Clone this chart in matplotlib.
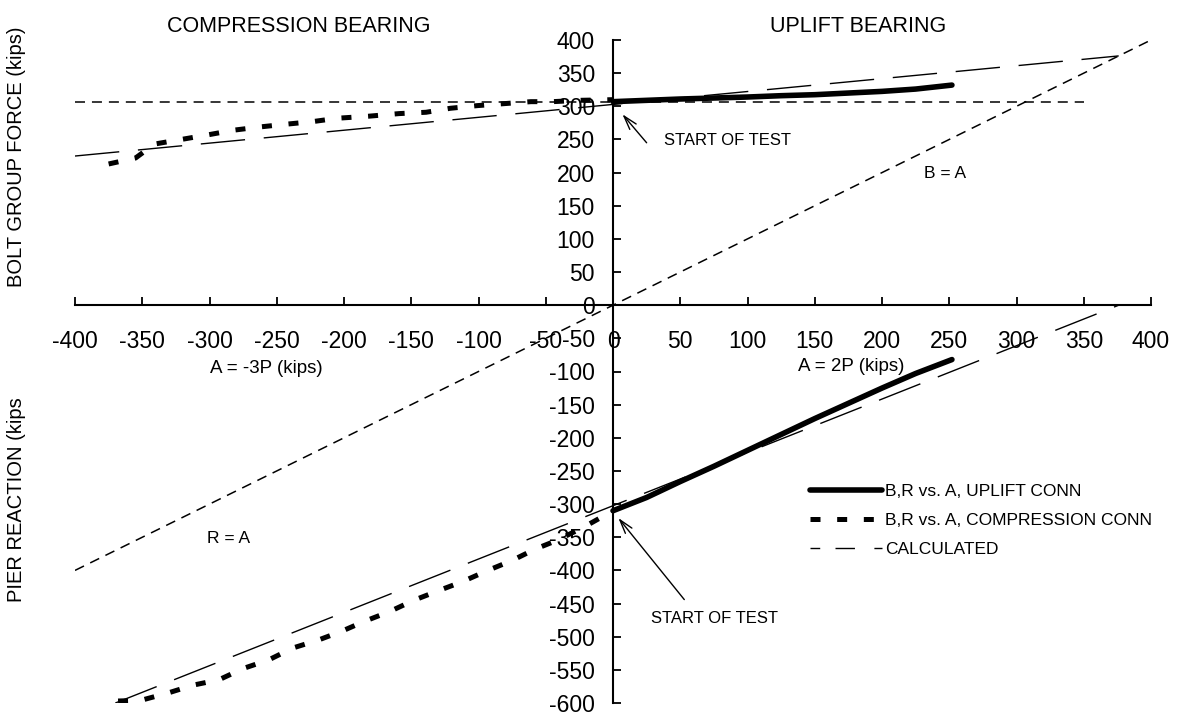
import numpy as np
import matplotlib
matplotlib.use("Agg")
import matplotlib.pyplot as plt
from matplotlib.lines import Line2D

plt.rcParams['font.family'] = ['Liberation Sans', 'DejaVu Sans']
plt.rcParams['lines.scale_dashes'] = False

# uplift connection test (solid)
upl_A = [0, 25, 50, 75, 100, 125, 150, 175, 200, 225, 252]
upl_B = [307, 309, 311, 312.5, 314, 316, 317.5, 320, 322.5, 326, 332]
upl_R = [-310, -290, -266, -243, -219, -195, -171, -148, -125, -103, -82]

# compression connection test (thick dashes)
comp_A_top = [-375, -355, -341, -321, -301, -282, -262, -243, -223, -205,
              -182, -159, -139, -121, -101, -81, -61, -45, -25, 0]
comp_B = [213, 222, 243, 250, 257, 264, 269, 273, 277, 282,
          285, 289, 291, 297, 301, 304, 307, 307, 309, 310]
comp_A_bot = [-368, -351, -331, -312, -293, -275, -256, -238, -219, -202, -185,
              -166, -148, -129, -112, -93, -75, -58, -42, -22, 0]
comp_R = [-597, -596, -585, -573, -565, -548, -535, -517, -505, -492, -477,
          -462, -445, -430, -417, -400, -385, -368, -355, -335, -310]

# calculated lines
calc_A_top = [-400, 376]
calc_B = [225, 376]
calc_A_bot = [-370, 376]
calc_R = [-600, 0]

# reference lines B = A / R = A and initial bolt force
diag_A = [-400, 400]
diag_BR = [-400, 400]
init_A = [-400, 350]
init_B = [307, 307]

xticks = np.arange(-400, 401, 50)
yticks = np.arange(-600, 401, 50)

W, H = 1182, 717
fig = plt.figure(figsize=(W / 100, H / 100), dpi=100)
ax = fig.add_axes([75 / W, 14 / H, 1076 / W, 663 / H])

short = (0, (7.2, 5.0))
calc = (0, (32, 13.5))
thick = (0, (7.2, 12.0))

ax.plot(diag_A, diag_BR, color='black', lw=1.1, linestyle=short)
ax.plot(init_A, init_B, color='black', lw=1.1, linestyle=short)

ax.plot(calc_A_top, calc_B, color='black', lw=1.0, linestyle=calc)
ax.plot(calc_A_bot, calc_R, color='black', lw=1.0, linestyle=calc)

l_comp, = ax.plot(comp_A_top, comp_B, color='black', lw=3.6, linestyle=thick,
                  dash_capstyle='butt', label='B,R vs. A, COMPRESSION CONN')
ax.plot(comp_A_bot, comp_R, color='black', lw=3.6, linestyle=thick,
        dash_capstyle='butt')

l_upl, = ax.plot(upl_A, upl_B, color='black', lw=4.0, solid_capstyle='round',
                 label='B,R vs. A, UPLIFT CONN')
ax.plot(upl_A, upl_R, color='black', lw=4.0, solid_capstyle='round')

# legend key for the calculated lines
l_calc = Line2D([], [], color='black', lw=1.0,
                linestyle=(0, (7, 11, 14, 14)), label='CALCULATED')

ax.set_xlim(-400, 400)
ax.set_ylim(-600, 400)

# axes crossing at the origin
for s in ['top', 'right']:
    ax.spines[s].set_visible(False)
ax.spines['left'].set_position(('data', 0))
ax.spines['bottom'].set_position(('data', 0))
ax.spines['left'].set_linewidth(1.5)
ax.spines['bottom'].set_linewidth(1.5)

ax.set_xticks(xticks)
ax.set_yticks(yticks)
ax.set_xticklabels([str(v) for v in xticks])
ax.set_yticklabels([str(v) for v in yticks])
ax.tick_params(axis='x', direction='in', length=6, width=1.3, pad=18,
               labelsize=16.5)
ax.tick_params(axis='y', direction='in', length=6, width=1.3, pad=13,
               labelsize=16.5)

ax.legend(handles=[l_upl, l_comp, l_calc], loc='upper left',
          bbox_to_anchor=((810 - 75) / 1076, (703 - 484) / 663),
          frameon=False, fontsize=12.5, handlelength=4.15,
          handletextpad=0.15, labelspacing=0.8, borderpad=0,
          borderaxespad=0)

# annotations
arrow = dict(arrowstyle='->, head_length=1.0, head_width=0.3', lw=1.0,
             color='black', shrinkA=0, shrinkB=0)
ax.annotate('', xy=(7, 288), xytext=(25, 245), arrowprops=arrow)
ax.text(38, 248, 'START OF TEST', fontsize=12, va='center', ha='left')
ax.annotate('', xy=(4, -321), xytext=(53, -444), arrowprops=arrow)
ax.text(28, -472, 'START OF TEST', fontsize=12, va='center', ha='left')

ax.text(247, 198, 'B = A', fontsize=12.5, ha='center', va='center')
ax.text(-286, -352, 'R = A', fontsize=12.5, ha='center', va='center')
ax.text(-258, -95, 'A = -3P (kips)', fontsize=13.5, ha='center', va='center')
ax.text(177, -93, 'A = 2P (kips)', fontsize=13.5, ha='center', va='center')

fig.text(299 / W, 1 - 26 / H, 'COMPRESSION BEARING', fontsize=15.5,
         ha='center', va='center')
fig.text(858 / W, 1 - 26 / H, 'UPLIFT BEARING', fontsize=15.5,
         ha='center', va='center')
fig.text(17 / W, 1 - 157 / H, 'BOLT GROUP FORCE (kips)', fontsize=14.5,
         rotation=90, ha='center', va='center')
fig.text(17 / W, 1 - 500 / H, 'PIER REACTION (kips', fontsize=14.5,
         rotation=90, ha='center', va='center')

fig.savefig('out.png', dpi=100)
